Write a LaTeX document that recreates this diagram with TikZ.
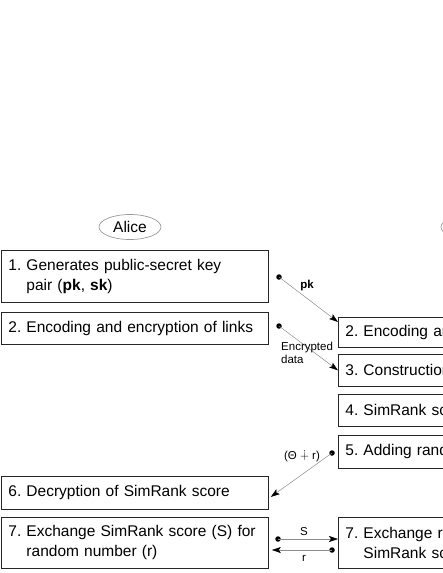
\documentclass[tikz,border=0pt]{standalone}
\usepackage{amssymb}
\usepackage{fontspec}
\setmainfont{Liberation Sans}
\usetikzlibrary{arrows.meta,shapes.geometric}
\frenchspacing
\tikzset{
  box/.style={draw=black!85, line width=0.8pt, anchor=north west, inner xsep=7pt, inner ysep=0pt,
    align=left, font=\fontsize{15.5}{20}\selectfont, text width=300pt},
  actor/.style={draw=black!40, line width=0.7pt, ellipse, minimum width=62pt, minimum height=25pt, inner sep=0pt,
    font=\fontsize{15.5}{16}\selectfont},
  msg/.style={draw=black!45, line width=0.5pt, -{Stealth[length=9pt,width=6pt,inset=2pt,black]}},
  dot/.style={circle, fill=black, inner sep=0pt, minimum size=5.5pt},
  lbl/.style={font=\fontsize{11.5}{12.5}\selectfont, inner sep=0pt, align=left}
}
\begin{document}
\begin{tikzpicture}[x=1pt,y=-1pt]
\useasboundingbox (0,0) rectangle (443,573);
\clip (0,0) rectangle (443,573);
% actors
\node[actor] (alice) at (130,227) {Alice};
\node[actor] (bob) at (472,227) {};
% Alice boxes
\node[box, text width=253pt, minimum height=52pt] (a1) at (1,250) {1. Generates public-secret key\\\hphantom{1. }pair (\textbf{pk}, \textbf{sk})};
\node[box, text width=253pt, minimum height=32pt] (a2) at (1,312) {2. Encoding and encryption of links};
\node[box, text width=253pt, minimum height=33pt] (a6) at (1,476) {6. Decryption of SimRank score};
\node[box, text width=253pt, minimum height=51pt] (a7) at (1,517) {7. Exchange SimRank score (S) for\\\hphantom{7. }random number (r)};
% Bob boxes (clipped at right edge)
\node[box, minimum height=30pt] (b2) at (338,317) {2. Encoding and};
\node[box, minimum height=32pt] (b3) at (338,354) {3. Construction of};
\node[box, minimum height=32pt] (b4) at (338,394) {4. SimRank score};
\node[box, minimum height=33pt] (b5) at (338,435) {5. Adding random};
\node[box, minimum height=51pt] (b7) at (338,517) {7. Exchange random\\\hphantom{7. }SimRank score};
% message dots
\node[dot] (d1) at (279,277) {};
\node[dot] (d2) at (279,326) {};
\node[dot] (d5) at (332,453) {};
\node[dot] (dS) at (278,539) {};
\node[dot] (dr) at (332,550) {};
% messages
\draw[msg] (d1.center) -- ([yshift=-5pt]b2.north west);
\draw[msg] (d2.center) -- (b3.west);
\draw[msg] (d5.center) -- ([xshift=2pt,yshift=-4pt]a6.east);
\draw[msg] (dS.center) -- (b7.west |- dS);
\draw[msg] (dr.center) -- ([xshift=3pt]a7.east |- dr);
% labels
\node[lbl, font=\fontsize{11.5}{12.5}\selectfont\bfseries] (lpk) at (307,286) {pk};
\node[lbl, anchor=north west] (lenc) at (281,342) {Encrypted\\data};
\node[lbl] (lth) at (302,457) {(Θ $\dotplus$ r)};
\node[lbl] (lS) at (304,532) {S};
\node[lbl] (lr) at (304,558) {r};
\end{tikzpicture}
\end{document}
